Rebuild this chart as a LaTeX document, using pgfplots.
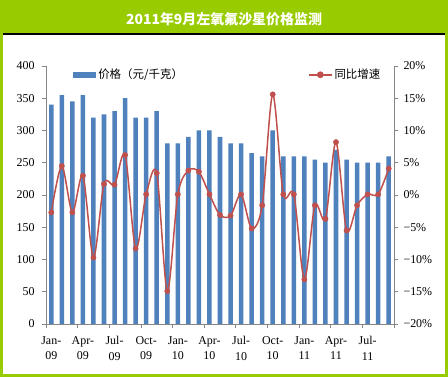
\documentclass[border=0pt]{standalone}
\usepackage{fontspec}
\usepackage{pgfplots}
\pgfplotsset{compat=1.18}
\setmainfont{Liberation Serif}
\newfontfamily\cjk{Noto Sans CJK SC}
\definecolor{frame}{RGB}{153,204,0}
\definecolor{barblue}{RGB}{79,129,189}
\definecolor{linered}{RGB}{192,80,77}
\definecolor{axgray}{RGB}{134,134,134}
\begin{document}
\begin{tikzpicture}
\useasboundingbox (0,0) rectangle (448bp,377bp);
\fill[frame] (0,0) rectangle (448bp,377bp);
\fill[white] (3bp,3bp) rectangle (445bp,342bp);
\fill[black] (3bp,342bp) rectangle (445bp,344bp);
\node[text=white, font={\cjk\bfseries\fontsize{14}{16}\selectfont}] at (224bp,358bp) {2011年9月左氧氟沙星价格监测};
\begin{axis}[
  at={(46bp,53bp)}, anchor=south west,
  scale only axis, width=348bp, height=258bp,
  xmin=0, xmax=33, ymin=0, ymax=400,
  axis x line*=bottom, axis y line*=left,
  axis line style={axgray, line width=0.8bp, -},
  ytick={0,50,...,400},
  xtick={0,3,...,33}, xticklabels={},
  extra x ticks={0.5,3.5,6.5,9.5,12.5,15.5,18.5,21.5,24.5,27.5,30.5},
  extra x tick labels={Jan-\\09,Apr-\\09,Jul-\\09,Oct-\\09,Jan-\\10,Apr-\\10,Jul-\\10,Oct-\\10,Jan-\\11,Apr-\\11,Jul-\\11},
  extra x tick style={major tick length=0pt, tick label style={align=center, yshift=-9bp}},
  tick align=outside, major tick length=4bp,
  tick style={axgray, line width=0.8bp},
  tick label style={font=\fontsize{12}{15.5}\selectfont},
  yticklabel style={xshift=-4bp},
  /pgf/number format/assume math mode=true,
  legend style={at={(0.075,1)}, anchor=north west, draw=none, fill=none,
    font=\cjk\fontsize{11.5}{13}\selectfont, inner sep=1bp},
  legend image code/.code={\fill[barblue] (0bp,-3.3bp) rectangle (23bp,3.3bp);},
]
\addplot[ybar, bar width=0.43, fill=barblue, draw=none] coordinates {
(0.5,340) (1.5,355) (2.5,345) (3.5,355) (4.5,320) (5.5,325) (6.5,330) (7.5,350)
(8.5,320) (9.5,320) (10.5,330) (11.5,280) (12.5,280) (13.5,290) (14.5,300) (15.5,300)
(16.5,290) (17.5,280) (18.5,280) (19.5,265) (20.5,260) (21.5,300) (22.5,260) (23.5,260)
(24.5,260) (25.5,255) (26.5,250) (27.5,270) (28.5,255) (29.5,250) (30.5,250) (31.5,250)
(32.5,260)};
\addlegendentry{价格（元/千克）}
\end{axis}
\begin{axis}[
  at={(46bp,53bp)}, anchor=south west,
  scale only axis, width=348bp, height=258bp,
  xmin=0, xmax=33, ymin=-20, ymax=20,
  axis x line=none, axis y line*=right,
  axis line style={axgray, line width=0.8bp, -},
  ytick={-20,-15,...,20},
  yticklabels={−20\%,−15\%,−10\%,−5\%,0\%,5\%,10\%,15\%,20\%},
  tick align=outside, major tick length=4bp,
  tick style={axgray, line width=0.8bp},
  tick label style={font=\fontsize{12}{15}\selectfont},
  yticklabel style={xshift=2bp},
  legend style={at={(0.97,1)}, anchor=north east, draw=none, fill=none,
    font=\cjk\fontsize{11.5}{13}\selectfont, inner sep=1bp},
  legend image code/.code={\draw[linered, line width=1.5bp] (0bp,0bp) -- (23bp,0bp);
    \fill[linered] (11.5bp,0bp) circle (2.6bp);},
]
\addplot[linered, line width=1.5bp, smooth, tension=0.5, mark=*, mark size=2.6bp,
  mark options={fill=linered, draw=linered, line width=0.5bp}] coordinates {
(0.5,-2.7) (1.5,4.5) (2.5,-2.7) (3.5,3.0) (4.5,-9.7) (5.5,1.7) (6.5,1.6) (7.5,6.2)
(8.5,-8.3) (9.5,0.1) (10.5,3.4) (11.5,-14.9) (12.5,0.1) (13.5,3.8) (14.5,3.6) (15.5,0.1)
(16.5,-3.1) (17.5,-3.2) (18.5,0.1) (19.5,-5.2) (20.5,-1.6) (21.5,15.6) (22.5,0.1) (23.5,0.1)
(24.5,-13.1) (25.5,-1.6) (26.5,-3.7) (27.5,8.2) (28.5,-5.5) (29.5,-1.6) (30.5,0.1) (31.5,0.1)
(32.5,4.1)};
\addlegendentry{同比增速}
\end{axis}
\end{tikzpicture}
\end{document}
